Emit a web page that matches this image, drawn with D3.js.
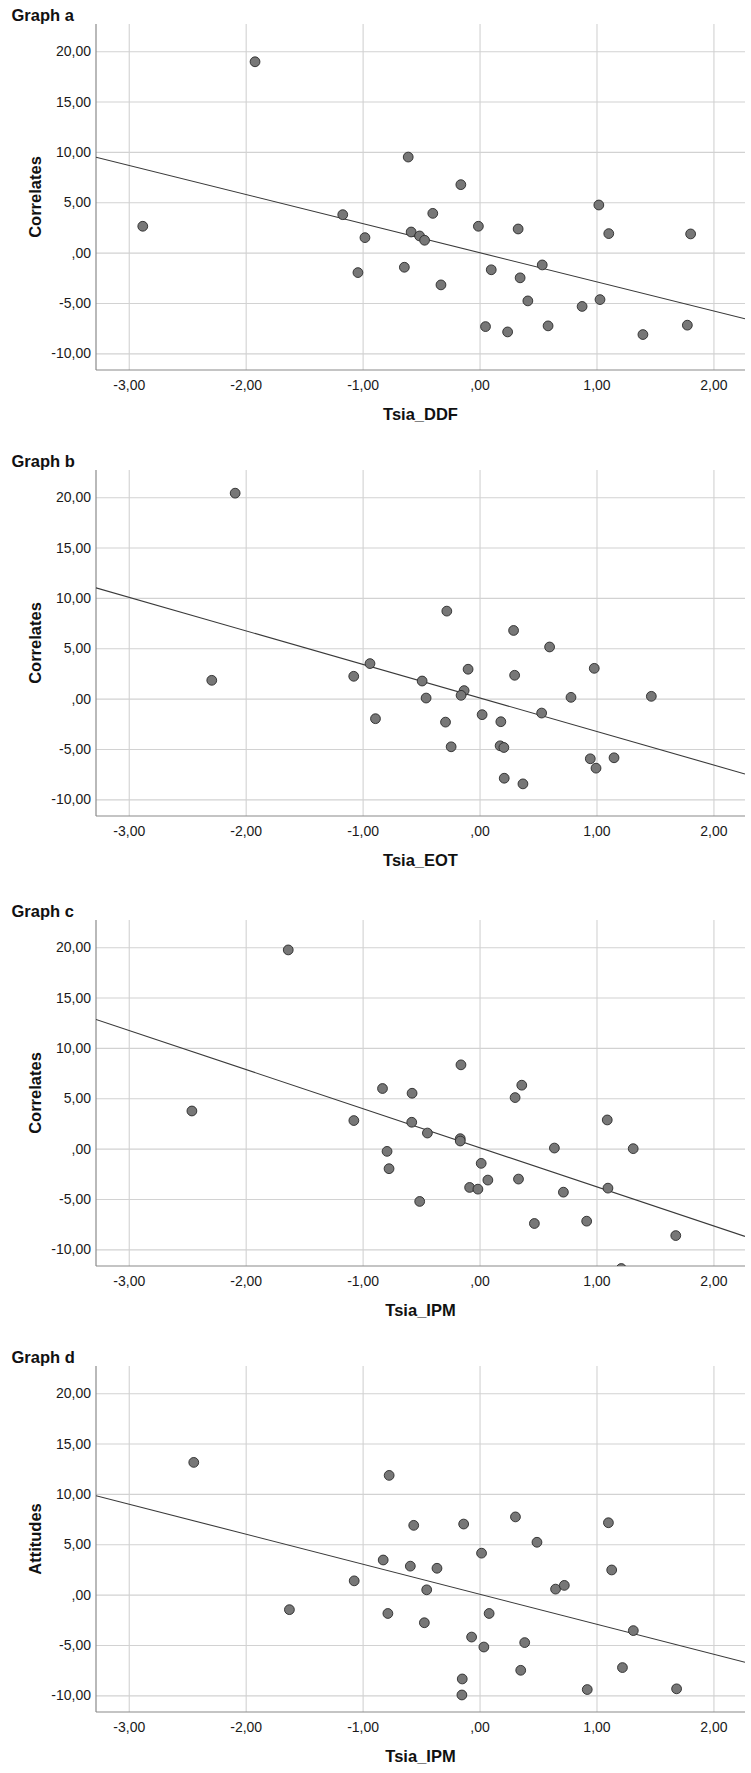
<!DOCTYPE html>
<html>
<head>
<meta charset="utf-8">
<script src="https://cdn.jsdelivr.net/npm/d3@7.9.0/dist/d3.min.js"></script>
<style>
  body { margin: 0; background: #fff; }
  svg { display: block; font-family: "Liberation Sans", Arial, sans-serif; }
</style>
</head>
<body>
<svg id="chart" width="751" height="1773"></svg>
<script>
const graphTitles = ["Graph a", "Graph b", "Graph c", "Graph d"];
const xTitles = ["Tsia_DDF", "Tsia_EOT", "Tsia_IPM", "Tsia_IPM"];
const yTitles = ["Correlates", "Correlates", "Correlates", "Attitudes"];
const xTicks = [-3, -2, -1, 0, 1, 2];
const yTicks = [-10, -5, 0, 5, 10, 15, 20];

// Graph a
const ddfX = [-2.88, -1.92, -1.17, -0.98, -1.04, -0.61, -0.16, -0.40, -0.585, -0.513, -0.47, -0.01, 0.33, 1.02, 1.105, 1.805,
  -0.643, -0.33, 0.10, 0.347, 0.536, 0.413, 1.03, 0.877, 0.051, 0.24, 0.586, 1.397, 1.777];
const ddfY = [2.62, 18.95, 3.77, 1.49, -1.98, 9.49, 6.75, 3.9, 2.05, 1.66, 1.23, 2.62, 2.35, 4.73, 1.89, 1.86,
  -1.45, -3.2, -1.7, -2.5, -1.22, -4.79, -4.66, -5.34, -7.34, -7.87, -7.27, -8.13, -7.2];

// Graph b
const eotX = [-2.09, -2.29, 0.599, -0.937, -1.076, -0.098, -0.491, 0.30, 0.981, -0.132, -0.158, -0.457, 0.782, 1.469,
  -0.89, -0.291, 0.022, 0.182, 0.531, -0.243, 0.176, 0.208, 0.947, 1.15, 0.996, 0.211, 0.371, -0.28, 0.291];
const eotY = [20.4, 1.82, 5.13, 3.48, 2.22, 2.92, 1.75, 2.32, 3.01, 0.8, 0.33, 0.06, 0.13, 0.23,
  -1.99, -2.33, -1.59, -2.29, -1.43, -4.78, -4.68, -4.85, -5.97, -5.87, -6.9, -7.9, -8.46, 8.69, 6.77];

// Graph c
const ipmCX = [-2.46, -1.636, -1.075, -0.83, -0.577, 0.361, 0.304, -0.58, -0.446, -0.165, -0.165, -0.159, 1.092, 0.64, 1.314,
  -0.791, -0.774, 0.014, 0.071, 0.333, -0.085, -0.014, 1.098, 0.717, -0.512, 0.469, 0.916, 1.678, 1.212];
const ipmCY = [3.74, 19.73, 2.79, 5.97, 5.5, 6.3, 5.07, 2.62, 1.55, 0.99, 0.76, 8.32, 2.85, 0.06, 0.0,
  -0.27, -1.99, -1.46, -3.12, -3.02, -3.85, -4.02, -3.92, -4.32, -5.24, -7.43, -7.2, -8.63, -11.9];

// Graph d
const ipmDX = [-2.444, -1.626, -1.072, -0.773, -0.563, -0.136, 0.307, 1.102, 0.491, 0.017, -0.824, -0.592, -0.364, 1.13, -0.452,
  0.65, 0.725, -0.784, -0.472, 0.082, 1.315, -0.068, 0.037, 0.386, 0.352, 1.222, -0.148, -0.151, 0.921, 1.685];
const ipmDY = [13.13, -1.49, 1.37, 11.84, 6.88, 7.01, 7.72, 7.14, 5.2, 4.12, 3.44, 2.83, 2.62, 2.45, 0.48,
  0.55, 0.92, -1.87, -2.79, -1.87, -3.57, -4.21, -5.2, -4.76, -7.51, -7.24, -8.37, -9.96, -9.42, -9.35];

// linear fit lines as drawn in the picture
const fitIntercepts = [0.0, 0.08, 0.1, 0.05];
const fitSlopes = [-2.89, -3.33, -3.88, -2.98];

const xValues = [ddfX, eotX, ipmCX, ipmDX];
const yValues = [ddfY, eotY, ipmCY, ipmDY];

const left = 96;
const right = 745;
const plotH = 346;
const panelTops = [24, 470, 920, 1366];
const xDomain = [-3.28, 2.27];
const yDomain = [-11.65, 22.7];

const locale = d3.formatLocale({ decimal: ",", thousands: ".", grouping: [3], currency: ["", ""], minus: "-" });
const fmt2 = locale.format(".2f");
const fmt = (v) => fmt2(v).replace(/^0,/, ",");

const svg = d3.select("#chart");
const x = d3.scaleLinear().domain(xDomain).range([left, right]);

graphTitles.forEach((title, i) => {
  let top = panelTops[i];
  let bottom = top + plotH;
  let y = d3.scaleLinear().domain(yDomain).range([bottom, top]);
  let g = svg.append("g");

  g.append("clipPath").attr("id", "clip" + i)
    .append("rect").attr("x", left).attr("y", top).attr("width", right - left).attr("height", plotH);

  // gridlines + tick labels
  let yAxis = g.append("g")
    .attr("transform", `translate(${left},0)`)
    .call(d3.axisLeft(y).tickValues(yTicks).tickFormat(fmt).tickSize(-(right - left)).tickPadding(5));
  let xAxis = g.append("g")
    .attr("transform", `translate(0,${bottom})`)
    .call(d3.axisBottom(x).tickValues(xTicks).tickFormat(fmt).tickSize(-plotH).tickPadding(10));

  [yAxis, xAxis].forEach((ax) => {
    ax.select(".domain").remove();
    ax.selectAll(".tick line").attr("stroke", "#d2d2d2").attr("stroke-width", 1.1);
    ax.selectAll(".tick text")
      .attr("fill", "#1a1a1a")
      .style("font-size", "14px")
      .style("font-family", "'Liberation Sans', Arial, sans-serif");
  });

  // axis lines
  g.append("line").attr("x1", left).attr("x2", left).attr("y1", top).attr("y2", bottom)
    .attr("stroke", "#8a8a8a").attr("stroke-width", 1.2);
  g.append("line").attr("x1", left).attr("x2", right).attr("y1", bottom).attr("y2", bottom)
    .attr("stroke", "#8a8a8a").attr("stroke-width", 1.2);

  // fit line
  let fx = xDomain;
  g.append("line")
    .attr("clip-path", `url(#clip${i})`)
    .attr("x1", x(fx[0])).attr("y1", y(fitIntercepts[i] + fitSlopes[i] * fx[0]))
    .attr("x2", x(fx[1])).attr("y2", y(fitIntercepts[i] + fitSlopes[i] * fx[1]))
    .attr("stroke", "#3a3a3a").attr("stroke-width", 1.1);

  // points
  let pts = xValues[i].map((v, k) => ({ x: v, y: yValues[i][k] }));
  g.append("g").attr("clip-path", `url(#clip${i})`)
    .selectAll("circle").data(pts).join("circle")
    .attr("cx", (d) => x(d.x))
    .attr("cy", (d) => y(d.y))
    .attr("r", 4.9)
    .attr("fill", "#777777")
    .attr("stroke", "#2a2a2a")
    .attr("stroke-width", 0.9);

  // titles
  g.append("text").attr("x", 11.5).attr("y", top - 3)
    .style("font-size", "16.5px").style("font-weight", "bold").attr("fill", "#111")
    .text(title);
  g.append("text").attr("x", (left + right) / 2).attr("y", bottom + 50)
    .attr("text-anchor", "middle")
    .style("font-size", "16.5px").style("font-weight", "bold").attr("fill", "#111")
    .text(xTitles[i]);
  g.append("text")
    .attr("transform", `translate(35,${(top + bottom) / 2}) rotate(-90)`)
    .attr("text-anchor", "middle").attr("dominant-baseline", "central")
    .style("font-size", "16.5px").style("font-weight", "bold").attr("fill", "#111")
    .text(yTitles[i]);
});
</script>
</body>
</html>
